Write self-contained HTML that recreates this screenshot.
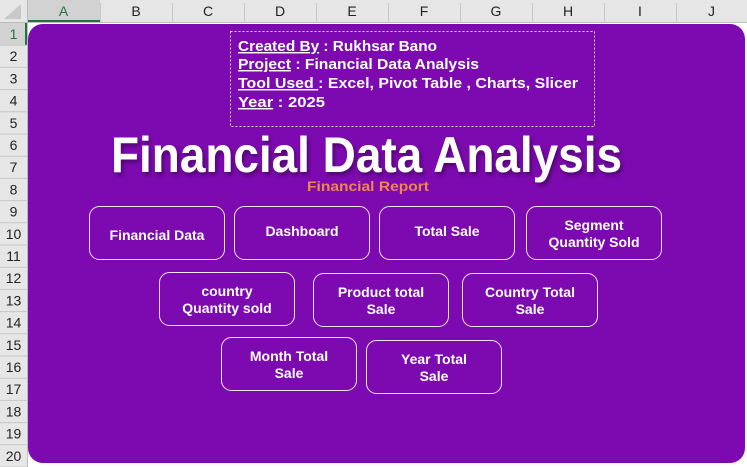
<!DOCTYPE html>
<html><head><meta charset="utf-8"><style>
html,body{margin:0;padding:0;background:#fff;width:747px;height:467px;overflow:hidden}
svg{display:block}
</style></head><body>
<svg width="747" height="467" viewBox="0 0 747 467" xmlns="http://www.w3.org/2000/svg" font-family="Liberation Sans, sans-serif">
<defs>
<filter id="sh" x="-5%" y="-20%" width="110%" height="150%"><feDropShadow dx="2" dy="3" stdDeviation="2" flood-color="#2a0040" flood-opacity="0.6"/></filter>
</defs>
<rect x="0" y="0" width="747" height="467" fill="#ffffff"/>
<g id="colheads"></g>
<g id="rowheads"></g>
<path d="M4 19 L21 4 L21 19 Z" fill="#c8c8c8"/>
<rect x="28" y="24" width="717" height="439" rx="15" fill="#7d0ab0"/>
<rect x="230.5" y="31.5" width="364" height="95" fill="none" stroke="#e8d8f0" stroke-dasharray="2,2"/>
<g fill="#fff" font-weight="bold" font-size="14.5">
<text x="238" y="51" textLength="199" lengthAdjust="spacingAndGlyphs"><tspan text-decoration="underline">Created By</tspan> : Rukhsar Bano</text>
<text x="238" y="69" textLength="241" lengthAdjust="spacingAndGlyphs"><tspan text-decoration="underline">Project</tspan> : Financial Data Analysis</text>
<text x="238" y="88" textLength="340" lengthAdjust="spacingAndGlyphs"><tspan text-decoration="underline">Tool Used </tspan>: Excel, Pivot Table , Charts, Slicer</text>
<text x="238" y="107" textLength="87" lengthAdjust="spacingAndGlyphs"><tspan text-decoration="underline">Year</tspan> : 2025</text>
</g>
<text x="111" y="172" font-size="50" font-weight="bold" fill="#fff" textLength="511" lengthAdjust="spacingAndGlyphs" filter="url(#sh)">Financial Data Analysis</text>
<text x="307" y="191" font-size="14" font-weight="bold" fill="#f0864e" textLength="122" lengthAdjust="spacingAndGlyphs">Financial Report</text>
<g id="buttons"></g>
</svg>
<script>
const NS='http://www.w3.org/2000/svg';
const cols=['A','B','C','D','E','F','G','H','I','J'];
const colX=[27,100,172,244,316,388,460,532,604,676,747];
const ch=document.getElementById('colheads');
function mk(t,a,p){const e=document.createElementNS(NS,t);for(const k in a)e.setAttribute(k,a[k]);p.appendChild(e);return e;}
mk('rect',{x:0,y:0,width:747,height:22,fill:'#e6e6e6'},ch);
mk('rect',{x:0,y:0,width:27,height:467,fill:'#e6e6e6'},ch);
mk('rect',{x:27,y:0,width:73,height:22,fill:'#d2d2d2'},ch);
mk('rect',{x:27,y:20,width:73,height:2,fill:'#217346'},ch);
cols.forEach((c,i)=>{
  mk('line',{x1:colX[i+1]+0.5,y1:3,x2:colX[i+1]+0.5,y2:22,stroke:'#c6c6c6'},ch);
  const t=mk('text',{x:(colX[i]+colX[i+1])/2,y:16,'text-anchor':'middle','font-size':14,fill:i==0?'#217346':'#222'},ch);
  t.textContent=c;
  
  
});
mk('line',{x1:0,y1:22.5,x2:747,y2:22.5,stroke:'#bdbdbd'},ch);
const rh=document.getElementById('rowheads');
const rowH=22.2;
for(let r=0;r<20;r++){
  const y=23+r*rowH;
  if(r==0){mk('rect',{x:0,y:y,width:27,height:rowH,fill:'#d2d2d2'},rh);mk('rect',{x:25,y:y,width:2,height:rowH,fill:'#217346'},rh);}
  mk('line',{x1:0,y1:y+rowH,x2:27,y2:y+rowH,stroke:'#c6c6c6'},rh);
  const t=mk('text',{x:13.5,y:y+16,'text-anchor':'middle','font-size':14,fill:r==0?'#217346':'#222'},rh);
  t.textContent=String(r+1);
  
  
}
mk('line',{x1:27.5,y1:0,x2:27.5,y2:467,stroke:'#bdbdbd'},rh);
const btns=[
 [89,206,['Financial Data'],'financial-data-button'],
 [234,206,['Dashboard'],'dashboard-button'],
 [379,206,['Total Sale'],'total-sale-button'],
 [526,206,['Segment','Quantity Sold'],'segment-quantity-sold-button'],
 [159,272,['country','Quantity sold'],'country-quantity-sold-button'],
 [313,273,['Product total','Sale'],'product-total-sale-button'],
 [462,273,['Country Total','Sale'],'country-total-sale-button'],
 [221,337,['Month Total','Sale'],'month-total-sale-button'],
 [366,340,['Year Total','Sale'],'year-total-sale-button']
];
const bg=document.getElementById('buttons');
btns.forEach(b=>{
  const g=mk('g',{},bg);
  
  
  mk('rect',{x:b[0]+0.5,y:b[1]+0.5,width:135,height:53,rx:10,fill:'#7d0ab0',stroke:'#f0e6f6','stroke-width':1},g);
  const cx=b[0]+68;
  if(b[2].length==1){
    const off=(b[3]=='dashboard-button'||b[3]=='total-sale-button')?30:34;
    const t=mk('text',{x:cx,y:b[1]+off,'text-anchor':'middle','font-size':14,'font-weight':'bold',fill:'#fff'},g);t.textContent=b[2][0];
  } else {
    b[2].forEach((s,i)=>{const t=mk('text',{x:cx,y:b[1]+24+i*17,'text-anchor':'middle','font-size':14,'font-weight':'bold',fill:'#fff'},g);t.textContent=s;});
  }
});
</script>
</body></html>
